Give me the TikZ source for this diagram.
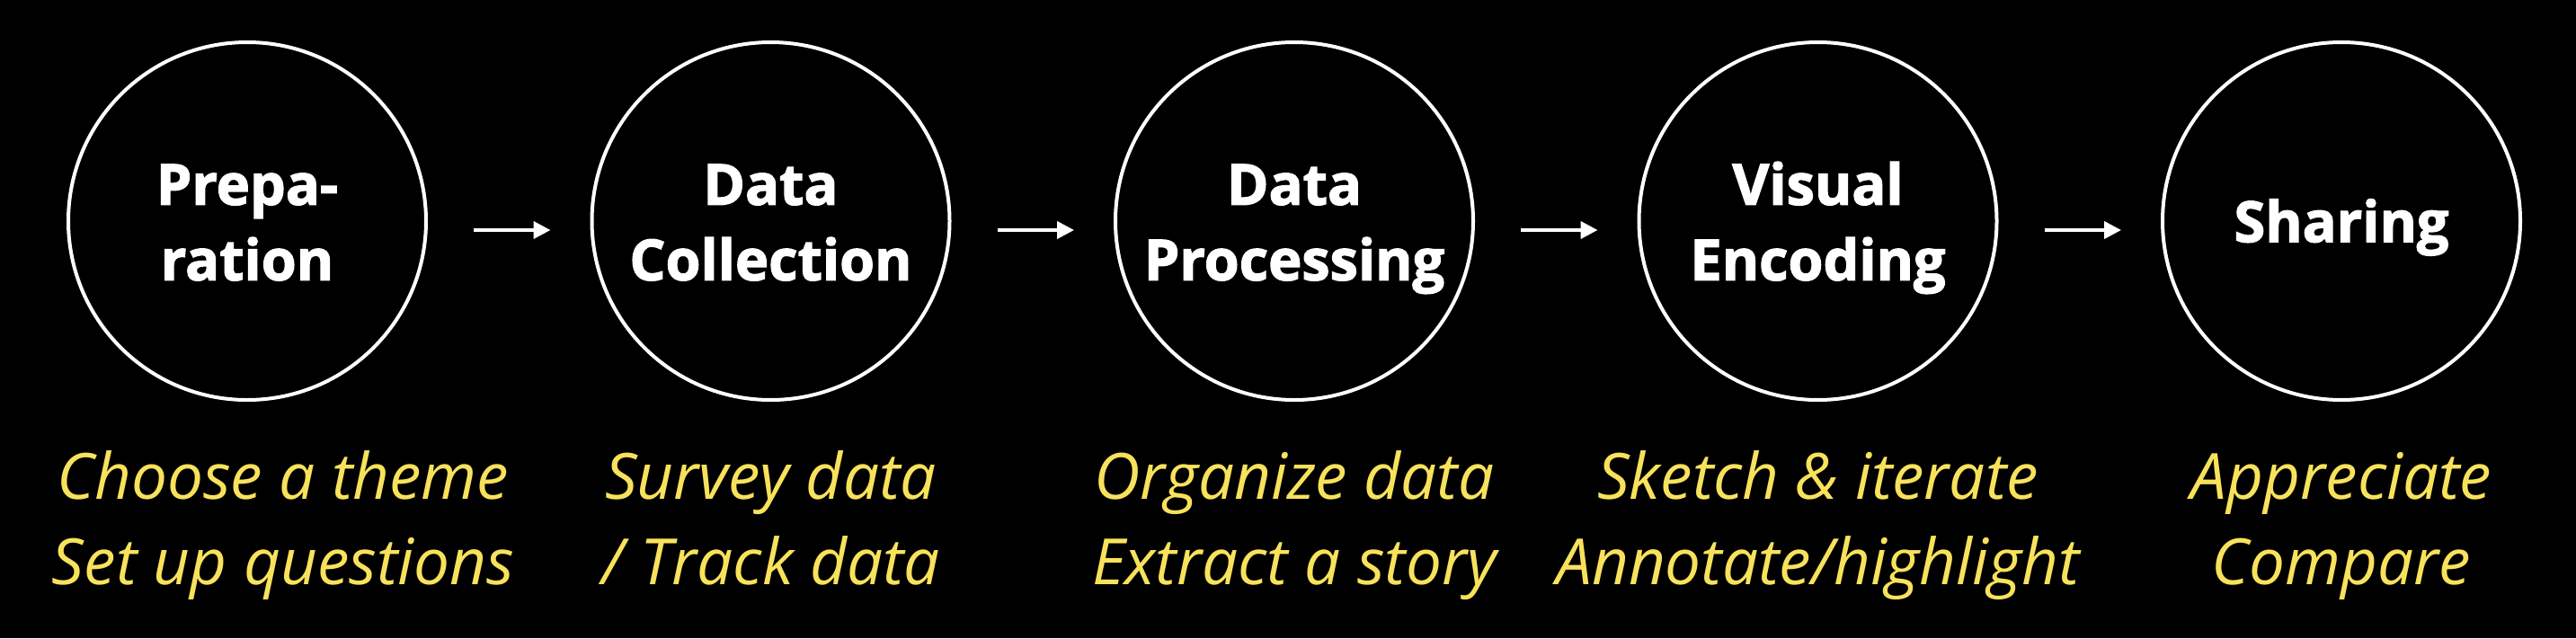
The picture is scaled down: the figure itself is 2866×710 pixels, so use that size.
\documentclass[tikz,border=0pt]{standalone}
\usepackage{fontspec}
\setmainfont{Open Sans}
\newfontfamily\heavyfont[BoldFeatures={FakeBold=2}]{Open Sans}
\usetikzlibrary{arrows.meta}
\definecolor{captionyellow}{HTML}{F8E25C}
\begin{document}
\begin{tikzpicture}[x=1pt,y=-1pt,
  stage/.style={circle,draw=white,line width=4pt,minimum size=398pt,inner sep=0pt},
  stagetext/.style={text=white,align=center,inner sep=0pt,font=\fontsize{63}{84}\selectfont\heavyfont\bfseries},
  caption/.style={text=captionyellow,align=center,inner sep=0pt,font=\fontsize{71}{95}\selectfont\itshape},
  flow/.style={draw=white,line width=4pt,-{Triangle[length=19pt,width=19pt]}}]
\fill[black] (0,0) rectangle (2866,710);
\useasboundingbox (0,0) rectangle (2866,710);
\node[stage] (s1) at (275,246) {};
\node[stage] (s2) at (857.5,246) {};
\node[stage] (s3) at (1440,246) {};
\node[stage] (s4) at (2022.5,246) {};
\node[stage] (s5) at (2605,246) {};
\node[stagetext] (l1) at ([yshift=-7pt]s1.center) {Prepa-\strut\\ration\strut};
\node[stagetext] (l2) at ([yshift=-7pt]s2.center) {Data\strut\\Collection\strut};
\node[stagetext] (l3) at ([yshift=-7pt]s3.center) {Data\strut\\Processing\strut};
\node[stagetext] (l4) at ([yshift=-7pt]s4.center) {Visual\strut\\Encoding\strut};
\node[stagetext] (l5) at ([yshift=-6.5pt]s5.center) {Sharing\strut};
\foreach \a/\b in {s1/s2,s2/s3,s3/s4,s4/s5}
  \draw[flow,shorten <=51pt,shorten >=44pt] ([yshift=-10pt]\a.east) -- ([yshift=-10pt]\b.west);
\node[caption] (t1) at (315,583.5) {Choose a theme\strut\\Set up questions\strut};
\node[caption] (t2) at (857.5,583.5) {Survey data\strut\\/ Track data\strut};
\node[caption] (t3) at (1440,583.5) {Organize data\strut\\Extract a story\strut};
\node[caption] (t4) at (2022.5,583.5) {Sketch \& iterate\strut\\Annotate/highlight\strut};
\node[caption] (t5) at (2605,583.5) {Appreciate\strut\\Compare\strut};
\end{tikzpicture}
\end{document}
